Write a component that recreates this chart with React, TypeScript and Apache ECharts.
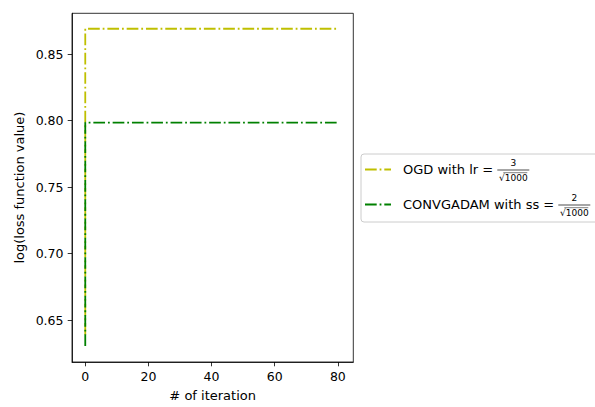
import React, { useEffect, useRef } from "react";
import * as echarts from "echarts";

const iterationX = [0, 0, 80];
const ogdValues = [0.639, 0.869, 0.869];
const convgadamValues = [0.6305, 0.7985, 0.7985];
const xTickValues = [0, 20, 40, 60, 80];
const yTickValues = [0.65, 0.7, 0.75, 0.8, 0.85];
const seriesNames = ["OGD with lr =", "CONVGADAM with ss ="];
const fractionNumerators = ["3", "2"];
const fractionDenominator = "√1000";
const seriesColors = ["#bfbf00", "#008000"];
const xAxisTitle = "# of iteration";
const yAxisTitle = "log(loss function value)";

const FONT = "DejaVu Sans";
const DASH = [11.7, 2.9, 1.8, 2.9];

export default function App() {
  const ref = useRef<HTMLDivElement>(null);
  useEffect(() => {
    document.body.style.margin = "0";
    const chart = echarts.init(ref.current!, null, { renderer: "svg" });
    const valueSets = [ogdValues, convgadamValues];

    const legendGraphics: any[] = [
      {
        type: "rect",
        shape: { x: 361, y: 154, width: 250, height: 68, r: 3 },
        style: { fill: "#fff", stroke: "#cccccc", lineWidth: 1 },
        z: 10,
      },
    ];
    const rowY = [169.5, 204.5];
    const fracX = [497.3, 558.3];
    seriesNames.forEach((name, i) => {
      const y = rowY[i];
      legendGraphics.push({
        type: "polyline",
        shape: { points: [[365, y], [391, y]] },
        style: { stroke: seriesColors[i], lineWidth: 1.8, lineDash: DASH, fill: null },
        z: 11,
      });
      legendGraphics.push({
        type: "text",
        x: 403,
        y: y,
        style: {
          text: name,
          font: `13px '${FONT}'`,
          fill: "#000",
          verticalAlign: "middle",
          align: "left",
        },
        z: 11,
      });
      const fx = fracX[i];
      const fw = 32;
      legendGraphics.push({
        type: "line",
        shape: { x1: fx, y1: y + 0.5, x2: fx + fw, y2: y + 0.5 },
        style: { stroke: "#000", lineWidth: 0.7 },
        z: 11,
      });
      legendGraphics.push({
        type: "text",
        x: fx + fw / 2,
        y: y - 6.5,
        style: {
          text: fractionNumerators[i],
          font: `9px '${FONT}'`,
          fill: "#000",
          verticalAlign: "middle",
          align: "center",
        },
        z: 11,
      });
      legendGraphics.push({
        type: "text",
        x: fx + fw / 2,
        y: y + 8.5,
        style: {
          text: fractionDenominator,
          font: `9px '${FONT}'`,
          fill: "#000",
          verticalAlign: "middle",
          align: "center",
        },
        z: 11,
      });
      legendGraphics.push({
        type: "line",
        shape: { x1: fx + 6, y1: y + 3.2, x2: fx + fw - 2, y2: y + 3.2 },
        style: { stroke: "#000", lineWidth: 0.5 },
        z: 11,
      });
    });

    chart.setOption({
      animation: false,
      backgroundColor: "#fff",
      textStyle: { fontFamily: FONT },
      grid: {
        left: 72,
        top: 13.3,
        right: 595 - 353.3,
        bottom: 407 - 362.7,
        show: true,
        borderColor: "#000",
        borderWidth: 0.8,
        backgroundColor: "transparent",
      },
      xAxis: {
        type: "value",
        min: -4.2,
        max: 84.9,
        name: xAxisTitle,
        nameLocation: "middle",
        nameGap: 27,
        nameTextStyle: { fontSize: 13, color: "#000", fontFamily: FONT },
        splitLine: { show: false },
        axisLine: { show: true, onZero: false, lineStyle: { color: "#000", width: 0.8 } },
        axisTick: { show: true, length: 4.3, lineStyle: { color: "#000", width: 0.8 }, customValues: xTickValues },
        axisLabel: {
          customValues: xTickValues,
          fontSize: 12.5,
          color: "#000",
          fontFamily: FONT,
          margin: 8,
          formatter: (v: number) => String(Math.round(v)),
        },
      },
      yAxis: {
        type: "value",
        min: 0.6185,
        max: 0.8806,
        name: yAxisTitle,
        nameLocation: "middle",
        nameRotate: 90,
        nameGap: 46,
        nameTextStyle: { fontSize: 13, color: "#000", fontFamily: FONT },
        splitLine: { show: false },
        axisLine: { show: true, onZero: false, lineStyle: { color: "#000", width: 0.8 } },
        axisTick: { show: true, length: 4.3, lineStyle: { color: "#000", width: 0.8 }, customValues: yTickValues },
        axisLabel: {
          customValues: yTickValues,
          fontSize: 12.5,
          color: "#000",
          fontFamily: FONT,
          margin: 8.5,
          formatter: (v: number) => v.toFixed(2),
        },
      },
      series: seriesNames.map((name, i) => ({
        name: name,
        type: "line",
        data: iterationX.map((x, k) => [x, valueSets[i][k]]),
        showSymbol: false,
        symbol: "none",
        lineStyle: { color: seriesColors[i], width: 1.8, type: DASH },
        itemStyle: { color: seriesColors[i] },
        clip: true,
      })),
      graphic: legendGraphics,
    });
    return () => chart.dispose();
  }, []);
  return <div ref={ref} style={{ width: 595, height: 407 }} />;
}
